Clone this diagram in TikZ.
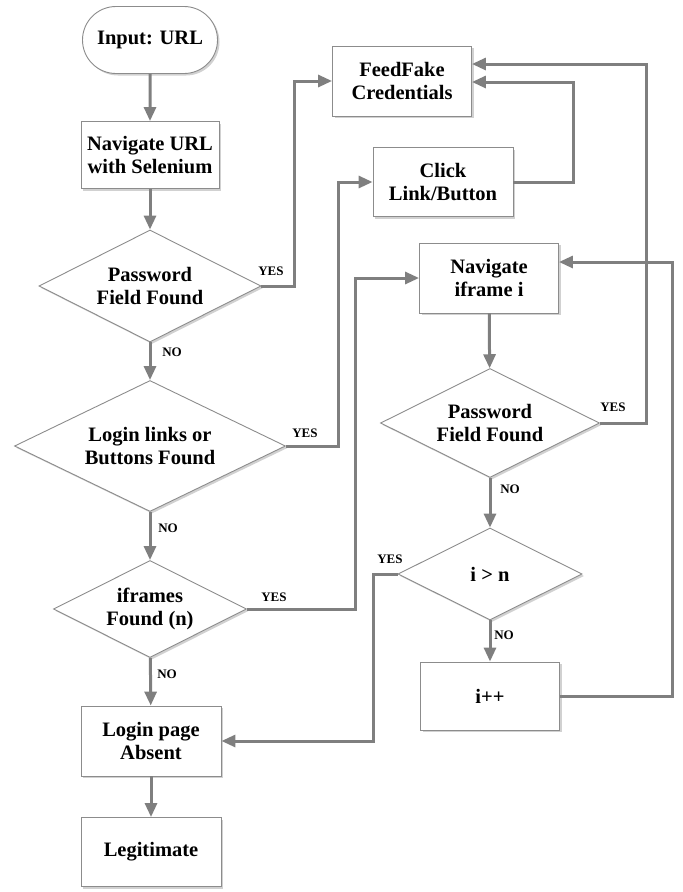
\documentclass[tikz,border=0pt]{standalone}
\usepackage{fontspec}
\setmainfont{Liberation Serif}
\usetikzlibrary{arrows.meta, positioning, shapes.geometric, shapes.misc, shadows}
\definecolor{linegray}{HTML}{7F7F7F}
\definecolor{bordergray}{HTML}{8C8C8C}
\newcommand{\flowtext}{\fontsize{20.5}{23.5}\selectfont\bfseries}
\newcommand{\yesnotext}{\fontsize{13}{14}\selectfont\bfseries}

\begin{document}
\begin{tikzpicture}[font=\bfseries, >={Triangle[length=14pt, width=12pt]}, x=1pt, y=-1pt]
  % Box Styles
  \tikzstyle{procbox} = [draw=bordergray, fill=white, line width=0.9pt, align=center,
    minimum width=139pt, minimum height=69pt, inner sep=2pt, font=\flowtext,
    drop shadow={shadow xshift=2pt, shadow yshift=-2pt, opacity=0.3, fill=black!60}]
  \tikzstyle{decision} = [procbox, diamond, aspect=2, inner sep=0pt]
  \tikzstyle{flow} = [->, line width=3pt, color=linegray]
  \tikzstyle{yesno} = [font=\yesnotext, inner sep=0pt]

  \useasboundingbox (0,0) rectangle (683,892);

  % Left column: main check
  \node[procbox, rounded rectangle, minimum height=67pt] (start) at (150, 40) {Input: URL};
  \node[procbox, minimum width=138pt, minimum height=67pt] (navurl) at (150, 155) {Navigate URL\\with Selenium};
  \node[decision, minimum width=222pt, minimum height=112pt] (pwdone) at (150, 286) {Password\\Field Found};
  \node[decision, minimum width=271pt, minimum height=131pt, aspect=2.07] (loginlinks) at (150, 446) {Login links or\\Buttons Found};
  \node[decision, minimum width=193pt, minimum height=97pt] (iframes) at (150, 609) {iframes\\Found (n)};
  \node[procbox, minimum width=140pt, minimum height=70pt] (absent) at (151, 741) {Login page\\Absent};
  \node[procbox, minimum width=140pt, minimum height=69pt] (legit) at (151, 852) {Legitimate};

  % Right column: actions and iframe loop
  \node[procbox, minimum height=70pt] (feedfake) at (402, 81) {FeedFake\\Credentials};
  \node[procbox, minimum width=140pt] (clicklink) at (443, 182) {Click\\Link/Button};
  \node[procbox, minimum height=70pt] (naviframe) at (489, 278) {Navigate\\iframe i};
  \node[decision, minimum width=219pt, minimum height=109pt] (pwdtwo) at (490, 423) {Password\\Field Found};
  \node[decision, minimum width=184pt, minimum height=92pt] (ibound) at (490, 574) {i > n};
  \node[procbox, minimum height=68pt] (incr) at (490, 696) {i++};

  % Straight arrows
  \draw[flow] (start) -- (navurl);
  \draw[flow] (navurl) -- (pwdone);
  \draw[flow] (pwdone) -- (loginlinks);
  \draw[flow] (loginlinks) -- (iframes);
  \draw[flow] (iframes) -- (absent);
  \draw[flow] (absent) -- (legit);
  \draw[flow] (naviframe) -- (pwdtwo);
  \draw[flow] (pwdtwo) -- (ibound);
  \draw[flow] (ibound) -- (incr);

  % Elbow arrows
  \draw[flow] (pwdone.east) -- ++(33,0) |- (feedfake.west);
  \draw[flow] (loginlinks.east) -- ++(53,0) |- (clicklink.west);
  \draw[flow] (iframes.east) -- ++(109,0) |- (naviframe.west);
  \draw[flow] (clicklink.east) -- ++(60,0) |- ([yshift=-1pt]feedfake.east);
  \draw[flow] (pwdtwo.east) -- ++(47,0) |- ([yshift=17pt]feedfake.east);
  \draw[flow] (incr.east) -- ++(113,0) |- ([yshift=16pt]naviframe.east);
  \draw[flow] (ibound.west) -- ++(-24,0) |- (absent.east);

  % YES / NO labels
  \node[yesno] (yesone) at (271, 271) {YES};
  \node[yesno] (noone) at (172, 352) {NO};
  \node[yesno] (yestwo) at (305, 433) {YES};
  \node[yesno] (notwo) at (168, 528) {NO};
  \node[yesno] (yesthree) at (274, 597) {YES};
  \node[yesno] (nothree) at (167, 674) {NO};
  \node[yesno] (yesfour) at (613, 407) {YES};
  \node[yesno] (nofour) at (510, 489) {NO};
  \node[yesno] (yesfive) at (390, 559) {YES};
  \node[yesno] (nofive) at (504, 635) {NO};

\end{tikzpicture}
\end{document}
